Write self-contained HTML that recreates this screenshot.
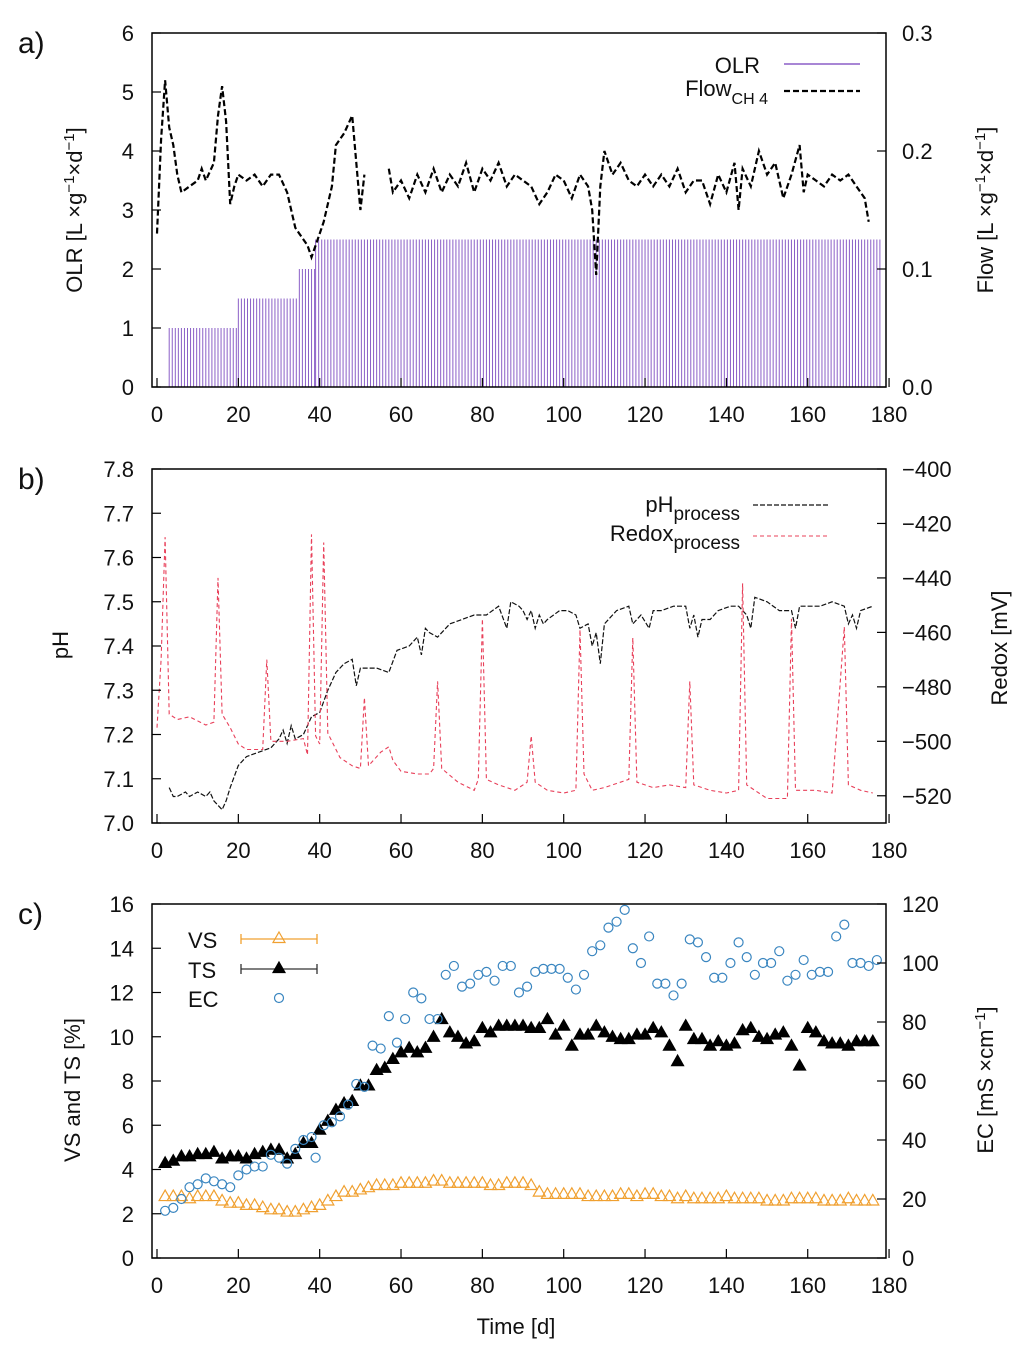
<!DOCTYPE html>
<html><head><meta charset="utf-8">
<style>
html,body{margin:0;padding:0;background:#fff;}
svg{display:block;font-family:"Liberation Sans","DejaVu Sans",sans-serif;}
text{fill:#111;}
</style></head>
<body>
<svg id="chart" width="1024" height="1350" viewBox="0 0 1024 1350" xmlns="http://www.w3.org/2000/svg">
</svg>
<script>
// ---------- DATA ----------
const xTicks=[0,20,40,60,80,100,120,140,160,180];
// panel a
const olrStart=[3,20,35,39];
const olrEnd=[20,35,39,178];
const olrValue=[1.0,1.5,2.0,2.5];
const flowDays=[0,1,2,3,4,5,6,8,10,11,12,14,15,16,17,18,19,20,22,24,26,28,30,32,34,35,37,38,40,41,43,44,46,48,49,50,51,null,57,58,60,62,64,66,68,70,72,74,76,78,80,82,84,86,88,90,92,94,96,98,100,102,104,106,107,108,109,110,112,114,116,118,120,122,124,126,128,130,132,134,136,138,140,142,143,144,146,148,150,152,154,156,158,159,160,162,164,166,168,170,172,174,175];
const flowVals=[0.130,0.210,0.260,0.220,0.205,0.180,0.165,0.170,0.175,0.185,0.175,0.190,0.230,0.255,0.225,0.155,0.170,0.180,0.175,0.180,0.170,0.180,0.180,0.165,0.135,0.130,0.120,0.110,0.130,0.140,0.170,0.205,0.215,0.230,0.190,0.150,0.180,null,0.185,0.165,0.175,0.160,0.180,0.165,0.185,0.165,0.180,0.170,0.190,0.165,0.185,0.175,0.190,0.170,0.180,0.175,0.170,0.155,0.165,0.180,0.175,0.160,0.180,0.170,0.150,0.095,0.170,0.200,0.180,0.190,0.175,0.170,0.180,0.170,0.180,0.170,0.185,0.165,0.175,0.175,0.155,0.180,0.165,0.190,0.150,0.185,0.170,0.200,0.180,0.190,0.160,0.180,0.205,0.165,0.180,0.175,0.170,0.180,0.175,0.180,0.170,0.160,0.140];
// panel b
const phDays=[3,4,5,7,8,10,12,13,14,15,16,17,18,20,22,25,28,30,31,32,33,34,36,38,40,42,44,46,48,49,50,54,57,59,62,64,65,66,67,69,72,75,78,81,84,86,87,89,90,91,92,93,94,95,96,99,101,103,104,106,107,108,109,110,113,116,117,119,121,122,124,127,130,131,132,133,134,136,138,141,143,145,146,147,150,153,156,157,158,160,163,166,169,170,171,172,173,176];
const phVals=[7.08,7.06,7.06,7.07,7.06,7.07,7.06,7.07,7.05,7.04,7.03,7.05,7.08,7.13,7.15,7.16,7.17,7.19,7.21,7.18,7.22,7.19,7.20,7.24,7.25,7.30,7.34,7.36,7.37,7.31,7.35,7.35,7.34,7.39,7.40,7.42,7.38,7.44,7.43,7.42,7.45,7.46,7.47,7.47,7.49,7.44,7.50,7.49,7.48,7.46,7.48,7.44,7.47,7.45,7.46,7.48,7.48,7.47,7.44,7.45,7.40,7.43,7.36,7.45,7.48,7.49,7.45,7.47,7.44,7.48,7.48,7.49,7.49,7.44,7.47,7.42,7.46,7.46,7.48,7.49,7.49,7.47,7.44,7.51,7.50,7.48,7.48,7.44,7.49,7.49,7.49,7.50,7.49,7.45,7.47,7.44,7.48,7.49];
const redoxDays=[0,1,2,3,5,8,12,14,15,16,18,20,22,26,27,28,32,36,37,38,39,40,41,42,45,48,50,51,52,55,57,58,60,64,67,68,69,70,74,78,79,80,81,84,88,91,92,93,96,100,103,104,105,107,110,116,117,118,122,126,130,131,132,136,140,143,144,145,150,155,156,157,162,166,169,170,173,176];
const redoxVals=[-495,-470,-425,-490,-492,-491,-494,-493,-440,-490,-495,-501,-503,-503,-470,-500,-500,-499,-505,-424,-498,-501,-427,-497,-506,-509,-510,-484,-509,-504,-502,-507,-511,-512,-512,-510,-478,-510,-515,-518,-514,-455,-514,-516,-518,-515,-498,-515,-518,-519,-518,-459,-512,-518,-517,-514,-462,-515,-517,-516,-517,-478,-516,-518,-519,-518,-442,-516,-521,-521,-455,-518,-518,-519,-458,-516,-518,-519];
// panel c
const tsDays=[2,4,6,8,10,12,14,16,18,20,22,24,26,28,30,32,34,36,38,40,42,44,46,48,50,52,54,56,58,60,62,64,66,68,70,72,74,76,78,80,82,84,86,88,90,92,94,96,98,100,102,104,106,108,110,112,114,116,118,120,122,124,126,128,130,132,134,136,138,140,142,144,146,148,150,152,154,156,158,160,162,164,166,168,170,172,174,176];
const tsVals=[4.3,4.4,4.6,4.6,4.7,4.7,4.8,4.5,4.6,4.6,4.5,4.7,4.8,4.9,4.9,4.5,4.7,5.2,5.2,5.8,6.2,6.7,7.0,7.1,7.8,7.8,8.5,8.6,9.0,9.3,9.5,9.3,9.5,10.0,10.8,10.2,10.0,9.7,9.8,10.4,10.2,10.5,10.5,10.5,10.5,10.4,10.4,10.8,10.1,10.5,9.6,10.1,10.1,10.5,10.2,10.0,9.9,9.9,10.1,10.1,10.4,10.2,9.6,8.9,10.5,9.9,9.9,9.6,9.8,9.6,9.7,10.3,10.4,10.0,9.9,10.1,10.2,9.6,8.7,10.4,10.2,9.8,9.7,9.7,9.6,9.8,9.8,9.8];
const vsDays=tsDays;
const vsVals=[2.8,2.8,2.8,2.7,2.8,2.8,2.8,2.6,2.5,2.5,2.4,2.4,2.3,2.2,2.2,2.1,2.1,2.2,2.3,2.4,2.6,2.8,3.0,3.0,3.1,3.2,3.3,3.3,3.3,3.4,3.4,3.4,3.4,3.5,3.5,3.4,3.4,3.4,3.4,3.4,3.3,3.3,3.4,3.4,3.4,3.3,3.0,2.9,2.9,2.9,2.9,2.9,2.8,2.8,2.8,2.8,2.9,2.9,2.8,2.9,2.9,2.8,2.8,2.7,2.8,2.7,2.7,2.7,2.7,2.8,2.7,2.7,2.7,2.7,2.6,2.6,2.6,2.7,2.7,2.7,2.7,2.6,2.6,2.6,2.7,2.6,2.6,2.6];
const ecDays=[2,4,6,8,10,12,14,16,18,20,22,24,26,28,30,32,34,36,38,39,41,43,45,47,49,51,53,55,57,59,61,63,65,67,69,71,73,75,77,79,81,83,85,87,89,91,93,95,97,99,101,103,105,107,109,111,113,115,117,119,121,123,125,127,129,131,133,135,137,139,141,143,145,147,149,151,153,155,157,159,161,163,165,167,169,171,173,175,177];
const ecVals=[16,17,20,24,25,27,26,25,24,28,30,31,31,35,34,32,37,40,41,34,45,46,48,52,59,58,72,71,82,73,81,90,88,81,81,96,99,92,93,96,97,94,99,99,90,92,97,98,98,98,95,91,96,104,106,112,114,118,105,100,109,93,93,89,93,108,107,102,95,95,100,107,102,96,100,100,104,94,96,101,96,97,97,109,113,100,100,99,101];

// ---------- DRAW ----------
const svg=document.getElementById('chart');
const NS='http://www.w3.org/2000/svg';
function mk(tag,attrs,parent){const e=document.createElementNS(NS,tag);for(const k in attrs)e.setAttribute(k,attrs[k]);(parent||svg).appendChild(e);return e;}
const X0=157,XS=4.067,FL=152,FR=886;
const xs=d=>X0+d*XS;

const panels=[
 {top:33,bot:387,l:[0,6],r:[0,0.3],lt:[0,1,2,3,4,5,6],rt:[0,0.1,0.2,0.3],lf:v=>String(v),rf:v=>v.toFixed(1),label:'a)'},
 {top:469,bot:823,l:[7.0,7.8],r:[-530,-400],lt:[7.0,7.1,7.2,7.3,7.4,7.5,7.6,7.7,7.8],rt:[-520,-500,-480,-460,-440,-420,-400],lf:v=>v.toFixed(1),rf:v=>String(v).replace('-','\u2212'),label:'b)'},
 {top:904,bot:1258,l:[0,16],r:[0,120],lt:[0,2,4,6,8,10,12,14,16],rt:[0,20,40,60,80,100,120],lf:v=>String(v),rf:v=>String(v),label:'c)'}
];
panels.forEach((p,i)=>{
 p.ly=v=>p.bot-(v-p.l[0])/(p.l[1]-p.l[0])*(p.bot-p.top);
 p.ry=v=>p.bot-(v-p.r[0])/(p.r[1]-p.r[0])*(p.bot-p.top);
 const g=mk('g',{});
 
 
 p.g=g;
 const t=mk('text',{x:18,y:p.top+20,'font-size':30},g);t.textContent=p.label;
 
 
});
function frame(p){
 const f=mk('rect',{x:FL,y:p.top,width:FR-FL,height:p.bot-p.top,fill:'none',stroke:'#000','stroke-width':1.5},p.g);
 
 
 xTicks.forEach(d=>{
  mk('line',{x1:xs(d),x2:xs(d),y1:p.bot,y2:p.bot-9,stroke:'#000','stroke-width':1.2},p.g);
  const t=mk('text',{x:xs(d),y:p.bot+35,'font-size':22,'text-anchor':'middle'},p.g);t.textContent=d;
  
  
 });
 p.lt.forEach(v=>{
  mk('line',{x1:FL,x2:FL+9,y1:p.ly(v),y2:p.ly(v),stroke:'#000','stroke-width':1.2},p.g);
  const t=mk('text',{x:134,y:p.ly(v)+8,'font-size':22,'text-anchor':'end'},p.g);t.textContent=p.lf(v);
  
  
 });
 p.rt.forEach(v=>{
  mk('line',{x1:FR,x2:FR-9,y1:p.ry(v),y2:p.ry(v),stroke:'#000','stroke-width':1.2},p.g);
  const t=mk('text',{x:902,y:p.ry(v)+8,'font-size':22,'text-anchor':'start'},p.g);t.textContent=p.rf(v);
  
  
 });
}
function rlabel(x,y,html,name,g){
 const t=mk('text',{x:x,y:y,'font-size':22,'text-anchor':'middle',transform:`rotate(-90 ${x} ${y})`},g);
 t.innerHTML=html;
 
 
}
function pathFrom(days,vals,yf){
 let d='',pen=false;
 for(let i=0;i<days.length;i++){
  if(vals[i]===null){pen=false;continue;}
  d+=(pen?'L':'M')+xs(days[i]).toFixed(1)+','+yf(vals[i]).toFixed(1);pen=true;
 }
 return d;
}
// Panel a
const A=panels[0];
const olrG=mk('g',{stroke:'#8b5fc7','stroke-width':1},A.g);


for(let s=0;s<olrStart.length;s++){
 for(let d=olrStart[s];d<olrEnd[s];d+=0.75){
  const l=mk('line',{x1:xs(d),x2:xs(d),y1:A.ly(0),y2:A.ly(olrValue[s])},olrG);
  
  
 }
}
const fl=mk('path',{d:pathFrom(flowDays,flowVals,A.ry),fill:'none',stroke:'#000','stroke-width':2.2,'stroke-dasharray':'6,3'},A.g);


frame(A);
rlabel(82,210,'OLR [L ×g<tspan baseline-shift="super" font-size="15">−1</tspan>×d<tspan baseline-shift="super" font-size="15">−1</tspan>]','y-axis-title-left',A.g);
rlabel(993,210,'Flow [L ×g<tspan baseline-shift="super" font-size="15">−1</tspan>×d<tspan baseline-shift="super" font-size="15">−1</tspan>]','y-axis-title-right',A.g);
let t=mk('text',{x:760,y:73,'font-size':22,'text-anchor':'end'},A.g);t.textContent='OLR';


mk('line',{x1:784,x2:860,y1:64,y2:64,stroke:'#8b5fc7','stroke-width':1.5},A.g);
t=mk('text',{x:768,y:96,'font-size':22,'text-anchor':'end'},A.g);t.innerHTML='Flow<tspan font-size="16" dy="8">CH 4</tspan>';


mk('line',{x1:784,x2:860,y1:91,y2:91,stroke:'#000','stroke-width':2.2,'stroke-dasharray':'6,3'},A.g);

// Panel b
const B=panels[1];
const ph=mk('path',{d:pathFrom(phDays,phVals,B.ly),fill:'none',stroke:'#111','stroke-width':1.2,'stroke-dasharray':'5,2'},B.g);


const rd=mk('path',{d:pathFrom(redoxDays,redoxVals,B.ry),fill:'none',stroke:'#e8405a','stroke-width':1.1,'stroke-dasharray':'4,3'},B.g);


frame(B);
rlabel(68,645,'pH','y-axis-title-left',B.g);
rlabel(1007,648,'Redox [mV]','y-axis-title-right',B.g);
t=mk('text',{x:740,y:512,'font-size':22,'text-anchor':'end'},B.g);t.innerHTML='pH<tspan font-size="19" dy="8">process</tspan>';


mk('line',{x1:753,x2:828,y1:505,y2:505,stroke:'#111','stroke-width':1.2,'stroke-dasharray':'5,2'},B.g);
t=mk('text',{x:740,y:541,'font-size':22,'text-anchor':'end'},B.g);t.innerHTML='Redox<tspan font-size="19" dy="8">process</tspan>';


mk('line',{x1:753,x2:828,y1:536,y2:536,stroke:'#e8405a','stroke-width':1.1,'stroke-dasharray':'4,3'},B.g);

// Panel c
const C=panels[2];
function tri(x,y,fill,stroke,g){return mk('path',{d:`M${x},${y-6}L${x+6},${y+4.5}L${x-6},${y+4.5}Z`,fill:fill,stroke:stroke,'stroke-width':1.2},g);}
vsDays.forEach((d,i)=>{const e=tri(xs(d),C.ly(vsVals[i]),'none','#f0a030',C.g);
 
 });
tsDays.forEach((d,i)=>{const e=tri(xs(d),C.ly(tsVals[i]),'#000','#000',C.g);
 
 });
ecDays.forEach((d,i)=>{const e=mk('circle',{cx:xs(d),cy:C.ry(ecVals[i]),r:4.5,fill:'none',stroke:'#3a86c0','stroke-width':1.2},C.g);
 
 });
frame(C);
rlabel(80,1090,'VS and TS [%]','y-axis-title-left',C.g);
rlabel(993,1080,'EC [mS ×cm<tspan baseline-shift="super" font-size="15">−1</tspan>]','y-axis-title-right',C.g);
t=mk('text',{x:516,y:1334,'font-size':22,'text-anchor':'middle'},C.g);t.textContent='Time [d]';


[['VS',947,'#f0a030','none'],['TS',977,'#000','#000']].forEach(r=>{
 const tt=mk('text',{x:188,y:r[1]+1,'font-size':22},C.g);tt.textContent=r[0];
 
 
 mk('line',{x1:241,x2:317,y1:r[1]-8,y2:r[1]-8,stroke:r[2]==='#000'?'#333':r[2],'stroke-width':1.3},C.g);
 mk('line',{x1:241,x2:241,y1:r[1]-13,y2:r[1]-3,stroke:r[2]==='#000'?'#333':r[2],'stroke-width':1.3},C.g);
 mk('line',{x1:317,x2:317,y1:r[1]-13,y2:r[1]-3,stroke:r[2]==='#000'?'#333':r[2],'stroke-width':1.3},C.g);
 tri(279,r[1]-9,r[3],r[2],C.g);
});
t=mk('text',{x:188,y:1007,'font-size':22},C.g);t.textContent='EC';


mk('circle',{cx:279,cy:998,r:4.5,fill:'none',stroke:'#3a86c0','stroke-width':1.2},C.g);
</script>
</body></html>
